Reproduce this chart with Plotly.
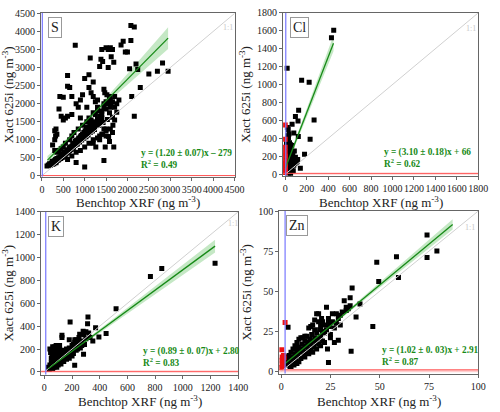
import plotly.graph_objects as go

# ---------------- data ----------------
# S panel
s_x = [120,150,180,200,220,240,260,280,300,320,340,350,370,390,400,420,440,450,470,480,500,510,530,550,560,580,590,600,620,640,650,660,680,700,710,720,740,750,760,780,800,810,820,840,850,860,880,900,910,920,940,950,960,980,1000,1010,1020,1040,1050,1060,1080,1100,1120,1140,1160,1180,1200,1220,1250,1280,1300,1350,1400,
       600,700,800,900,1000,1100,1200,1300,1400,1500,
       300,320,300,330,350,400,420,500,450,500,550,600,600,650,600,700,700,780,800,850,900,900,950,1000,1050,1100,1100,1130,1150,1200,1200,1250,1300,1300,1350,1380,1400,1420,1450,1450,1500,1500,1550,1550,1600,1600,1620,1650,1680,1700,1750,1850,1900,1950,2000,2050,2080,2080,2100,2160,2160,2200,2240,2300,2500,2700,2820,2950,
       250,300,800,1000,1450,1480,1580,1680,1560,1260,1200,1350,1450,1500,1600,1650,1700,
       1100,1200,1300,1400,1450,1500,1550,1600,1650,1700,1800,1400,1350,1250,1150,1050,950,850,750,700,650,550,500,450,400,350,
       250,280,330,380,430,480,530,580,630,680,730,780,830,880,930,980,1030,1080,1130,1180,1230,1330,1430,1530,1650,1750,
       1470,1520,1580,1620,1580,1660,1500,1420,1350]
s_y = [270,300,330,290,350,400,380,330,420,450,400,480,430,500,460,530,480,560,510,600,540,620,580,650,600,700,640,720,680,760,700,800,740,820,770,880,800,900,840,950,870,980,920,1000,950,1050,980,1080,1020,1120,1050,1150,1100,1200,1120,1250,1180,1300,1220,1350,1250,1320,1380,1280,1420,1340,1460,1380,1500,1420,1560,1480,1600,
       450,550,650,700,800,900,1000,1050,1150,1300,
       1000,1100,1250,1300,1150,1850,2200,2180,1650,1550,1600,1650,2480,2450,2780,1700,2200,3620,2000,1900,1600,2100,2250,2700,1900,2450,2800,3270,2300,2200,2600,2050,1800,2100,3030,3230,3500,3170,2400,1900,3550,2050,3500,3000,3550,1900,3300,3500,3150,2200,2000,3630,3730,3430,3430,2970,4170,3750,2200,4130,1650,3100,2950,2450,2820,2900,3130,2900,
       850,700,370,240,420,800,950,800,1090,800,900,1100,1300,1100,1300,1200,1550,
       1600,1750,1900,1800,2000,1850,2000,2100,2050,1900,2100,1700,1650,1700,1550,1500,1400,1300,1200,1100,1000,900,800,750,700,650,
       320,380,360,440,480,520,600,640,690,730,790,850,880,940,990,1040,1080,1130,1200,1240,1280,1400,1480,1560,1620,1760,
       2300,2250,2200,2000,1750,1400,1250,1150,1000]

# Cl panel
cl_x = [431,452,18,153,223,125,95,119,64,269,80,122,232,180,116,141,
        20,28,35,25,40,30,50,60,15,20,35,45,55,70,25,40,60,80,20,30,50,65,90,100,20,35,45,55,15,25,40,60,75,10,20,30,50,80,110,15,10,10,10,5,
        24,30,12,45,38,70,55,65,85,95]
cl_y = [1521,1605,1183,1047,1025,713,643,595,558,606,459,422,389,224,165,66,
        520,500,450,400,350,320,330,320,300,280,270,260,250,250,230,210,200,180,180,160,150,140,120,130,130,110,100,90,80,70,60,50,40,30,20,15,10,100,140,240,200,150,100,50,
        430,410,340,300,260,230,180,200,260,190]
cl_red_x = [0,0,0,0,2,0,3,0,2,0,0,1]
cl_red_y = [550,390,300,250,200,150,120,100,80,60,40,20]

# K panel
k_x = [1233,766,848,518,446,394,370,315,312,300,320,280,285,255,250,270,300,330,350,290,260,186,127,127,219,283,230,220,210,240,200,
       30,35,40,45,50,50,55,55,60,60,65,65,70,70,75,75,80,80,85,85,90,90,95,95,100,100,105,110,110,115,120,120,125,130,130,135,140,140,145,150,150,155,160,160,165,170,170,175,180,180,185,190,195,200,200,205,210,215,220,225,230,235,240,245,260,270,180,200,110,85,60,40,45,70,100,120,140,160,180,90,60]
k_y = [950,835,905,553,335,305,385,480,420,350,340,355,325,330,300,270,290,300,270,240,240,437,320,300,57,155,280,260,240,220,200,
       40,20,60,30,80,120,50,150,100,190,70,130,160,200,90,220,110,140,60,180,120,210,80,150,100,170,130,200,90,150,120,180,140,100,160,190,130,170,150,120,180,160,140,200,170,150,190,180,160,210,190,170,200,180,230,210,160,200,280,220,190,240,200,260,210,230,280,140,230,230,220,200,170,40,60,70,90,110,120,40,30]

# Zn panel
zn_x = [2.5,3,3,3.5,3.5,4,4,4.5,5,5,5.5,6,6,6.5,7,7,7.5,8,8,8.5,9,9,9.5,10,10,10.5,11,11,11.5,12,12,12.5,13,13,13.5,14,14,14.5,15,15,15.5,16,16,16.5,17,17,17.5,18,18,18.5,19,19,19.5,20,20,20.5,21,21,22,22,23,23,23.5,24,24,24.5,25,26,27,27,28,28,29,29,30,31,32,33,33,34,35,35,35.5,36,38,40,46.5,48.5,49.5,58.5,59.5,74,74,79,
        5,7,9,12,14,16,18,20,22,25,12,10,8,15,17,19,26,30,21,24]
zn_y = [5,7,4,9,27.5,6,10,3,8,12,6,9,14,4,11,16,8,13,5,10,15,20,12,14,8,17,13,21,10,16,19,12,15,22,18,14,27,20,17,13,23,19,29,15,21,26,18,36,24,20,31,17,26,22,28,33,25,19,29,24,40,26,14,30,5.5,28,23,31,27,18,36,30,33,19.5,35,37,44,38,40,39,46,41,12.5,52,34,42,28,68,56,71.5,58.5,85,71,75,
        3,5,6,9,11,12,14,16,18,21,22,21,18,28,32,36,36,29,31,33]
zn_red_x = [2.0,0.3,0.5,0.8,0.4,1.0,0.6,0.9,0.3,1.2,1.5,0.5]
zn_red_y = [30.5,13.5,9,8,7,6,5,3,2.5,10,8.5,4]

panel_names = ["S", "Cl", "K", "Zn"]
fit_slope = [1.20, 3.10, 0.89, 1.02]
fit_intercept = [279, 66, 2.80, 2.91]
fit_xmin = [130, 0, 30, 2]
fit_xmax = [2950, 450, 1233, 87]
band_x = [[130, 500, 900, 1300, 1800, 2400, 2950],
          [0, 50, 150, 300, 450],
          [30, 200, 500, 900, 1233],
          [2, 10, 30, 60, 87]]
band_half = [[110, 60, 45, 60, 120, 210, 300],
             [30, 25, 35, 60, 90],
             [15, 10, 20, 40, 55],
             [0.8, 0.6, 0.8, 2.0, 3.2]]
eq_text = ["y = (1.20 ± 0.07)x – 279<br>R<sup>2</sup> = 0.49",
           "y = (3.10 ± 0.18)x + 66<br>R<sup>2</sup> = 0.62",
           "y = (0.89 ± 0. 07)x + 2.80<br>R<sup>2</sup> = 0.83",
           "y = (1.02 ± 0. 03)x + 2.91<br>R<sup>2</sup> = 0.87"]
x_title = "Benchtop XRF (ng m<sup>-3</sup>)"
y_title = "Xact 625i (ng m<sup>-3</sup>)"
axis_max = [4500, 1800, 1400, 100]
axis_dtick = [500, 200, 200, 25]
det_x = [10, 5, 10, 2]
det_y = [5, 10, 5, 1]
one_label_pos = [(4360, 4110), (1736, 1624), (1360, 1300), (96, 90)]

# ---------------- layout ----------------
dom_x = [[0.080, 0.478], [0.576, 0.976], [0.080, 0.484], [0.568, 0.976]]
dom_y = [[0.575, 0.983], [0.577, 0.983], [0.083, 0.488], [0.085, 0.490]]
xtitle_y = [0.512, 0.512, 0.018, 0.018]
ranges_x = [[-20, 4520], [-20, 1800], [-24, 1400], [-1, 100]]
ranges_y = [[-30, 4520], [-20, 1800], [-24, 1400], [-1.5, 100]]

black_x = [s_x, cl_x, k_x, zn_x]
black_y = [s_y, cl_y, k_y, zn_y]
red_x = [[], cl_red_x, [], zn_red_x]
red_y = [[], cl_red_y, [], zn_red_y]

SERIF = "Liberation Serif"
GREEN = "#178a17"

fig = go.Figure()
layout = dict(width=500, height=412, margin=dict(l=0, r=0, t=0, b=0),
              paper_bgcolor="white", plot_bgcolor="white", showlegend=False,
              font=dict(family=SERIF, color="#222"))
annotations = []
shapes = []

for i in range(4):
    xa = "x" if i == 0 else f"x{i+1}"
    ya = "y" if i == 0 else f"y{i+1}"
    xkey = "xaxis" if i == 0 else f"xaxis{i+1}"
    ykey = "yaxis" if i == 0 else f"yaxis{i+1}"

    # confidence band
    bx = band_x[i]
    lo = [fit_slope[i] * v + fit_intercept[i] - h for v, h in zip(bx, band_half[i])]
    hi = [fit_slope[i] * v + fit_intercept[i] + h for v, h in zip(bx, band_half[i])]
    fig.add_trace(go.Scatter(x=bx + bx[::-1], y=hi + lo[::-1], fill="toself",
                             fillcolor="rgba(90,190,90,0.35)", line=dict(width=0),
                             mode="lines", xaxis=xa, yaxis=ya, hoverinfo="skip"))
    # points
    fig.add_trace(go.Scatter(x=black_x[i], y=black_y[i], mode="markers",
                             marker=dict(symbol="square", size=5, color="black"),
                             xaxis=xa, yaxis=ya))
    if red_x[i]:
        fig.add_trace(go.Scatter(x=red_x[i], y=red_y[i], mode="markers",
                                 marker=dict(symbol="square", size=5, color="#ee1111"),
                                 xaxis=xa, yaxis=ya))
    # 1:1 line
    fig.add_trace(go.Scatter(x=[0, axis_max[i]], y=[0, axis_max[i]], mode="lines",
                             line=dict(color="#d0d0d0", width=1), xaxis=xa, yaxis=ya))
    # fit line
    fx = [fit_xmin[i], fit_xmax[i]]
    fy = [fit_slope[i] * v + fit_intercept[i] for v in fx]
    fig.add_trace(go.Scatter(x=fx, y=fy, mode="lines", line=dict(color=GREEN, width=1.3),
                             xaxis=xa, yaxis=ya))

    # detection limit shapes
    shapes.append(dict(type="rect", xref=xa, yref=ya, x0=ranges_x[i][0], x1=ranges_x[i][1],
                       y0=ranges_y[i][0] * 0.3, y1=det_y[i], fillcolor="rgba(255,160,160,0.5)",
                       line=dict(width=0), layer="below"))
    shapes.append(dict(type="line", xref=xa, yref=ya, x0=ranges_x[i][0], x1=ranges_x[i][1],
                       y0=det_y[i], y1=det_y[i], line=dict(color="#ff5050", width=1)))
    shapes.append(dict(type="line", xref=xa, yref=ya, x0=det_x[i], x1=det_x[i],
                       y0=ranges_y[i][0], y1=ranges_y[i][1], line=dict(color="#7777ff", width=1.2)))

    axis_common = dict(showgrid=False, zeroline=False, showline=True, linecolor="#666",
                       linewidth=1, mirror=True, ticks="outside", tickcolor="#666",
                       ticklen=3, tickfont=dict(family=SERIF, size=10, color="#222"),
                       dtick=axis_dtick[i], tick0=0)
    layout[xkey] = dict(axis_common, domain=dom_x[i], anchor=ya, range=ranges_x[i],
                        tickangle=0)
    layout[ykey] = dict(axis_common, domain=dom_y[i], anchor=xa, range=ranges_y[i],
                        title=dict(text=y_title,
                                   font=dict(family=SERIF, size=13, color="#222"), standoff=3))

    # x-axis title as paper annotation
    annotations.append(dict(xref="paper", yref="paper", x=(dom_x[i][0] + dom_x[i][1]) / 2,
                            y=xtitle_y[i], xanchor="center", yanchor="middle",
                            text=x_title, showarrow=False,
                            font=dict(family=SERIF, size=13, color="#222")))

    dx = "x domain" if i == 0 else f"x{i+1} domain"
    dy = "y domain" if i == 0 else f"y{i+1} domain"
    annotations.append(dict(xref=dx, yref=dy, x=0.035, y=0.975, xanchor="left", yanchor="top",
                            text=panel_names[i], showarrow=False,
                            font=dict(family=SERIF, size=14, color="#222"),
                            bordercolor="#999", borderwidth=1, borderpad=2, bgcolor="white"))
    annotations.append(dict(xref=dx, yref=dy, x=0.505, y=0.11, xanchor="left", yanchor="middle",
                            text="<b>" + eq_text[i].replace("<br>", "</b><br><b>") + "</b>",
                            showarrow=False, align="left",
                            font=dict(family=SERIF, size=9.3, color=GREEN)))
    annotations.append(dict(xref=xa, yref=ya, x=one_label_pos[i][0], y=one_label_pos[i][1],
                            text="1:1", showarrow=False,
                            font=dict(family=SERIF, size=8, color="#c8c8c8")))

layout["annotations"] = annotations
layout["shapes"] = shapes
fig.update_layout(**layout)
fig.write_html("out.html")
